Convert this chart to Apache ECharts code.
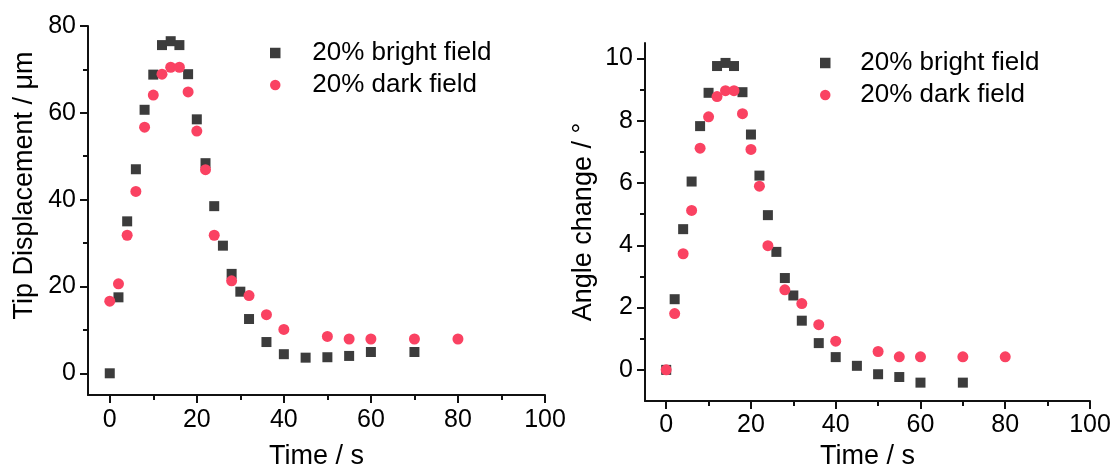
<!DOCTYPE html>
<html>
<head>
<meta charset="utf-8">
<script src="https://cdn.jsdelivr.net/npm/echarts@6/dist/echarts.min.js"></script>
<style>
  html, body { margin: 0; padding: 0; background: #ffffff; }
  #chart { width: 1116px; height: 468px; }
</style>
</head>
<body>
<div id="chart"></div>
<script>
// Sampling times (s)
const timeBright = [0, 2, 4, 6, 8, 10, 12, 14, 16, 18, 20, 22, 24, 26, 28, 30, 32, 36, 40, 45, 50, 55, 60, 70];
const timeDark = [0, 2, 4, 6, 8, 10, 12, 14, 16, 18, 20, 22, 24, 28, 32, 36, 40, 50, 55, 60, 70, 80];

// Tip displacement (µm)
const dispBright = [0, 17.5, 35, 47, 60.7, 68.8, 75.6, 76.5, 75.6, 68.9, 58.5, 48.4, 38.5, 29.4, 22.9, 18.8, 12.5, 7.2, 4.4, 3.6, 3.7, 4.0, 4.9, 4.9];
const dispDark = [16.6, 20.6, 31.8, 41.9, 56.7, 64.1, 68.9, 70.5, 70.5, 64.8, 55.8, 46.9, 31.8, 21.3, 17.9, 13.5, 10.1, 8.5, 7.9, 7.9, 7.9, 7.9];

// Angle change (degrees)
const angleBright = [0, 2.27, 4.52, 6.05, 7.83, 8.9, 9.76, 9.86, 9.76, 8.92, 7.56, 6.24, 4.97, 3.79, 2.95, 2.39, 1.58, 0.86, 0.41, 0.13, -0.14, -0.23, -0.41, -0.41];
const angleDark = [0, 1.81, 3.73, 5.12, 7.12, 8.13, 8.78, 8.97, 8.97, 8.23, 7.08, 5.9, 3.99, 2.57, 2.13, 1.45, 0.92, 0.59, 0.42, 0.42, 0.42, 0.42];

// Series names
const nameBright = '20% bright field';
const nameDark = '20% dark field';

// Tick positions
const timeMajor = [0, 20, 40, 60, 80, 100];
const timeMinor = [10, 30, 50, 70, 90];
const dispMajor = [0, 20, 40, 60, 80];
const dispMinor = [10, 30, 50, 70];
const angleMajor = [0, 2, 4, 6, 8, 10];
const angleMinor = [1, 3, 5, 7, 9];

const FONT = '"Liberation Sans", Arial, Helvetica, sans-serif';
const INK = '#111111';
const COLOR_BRIGHT = '#3c3c3c';
const COLOR_DARK = '#fa4262';
// Square legend icon that keeps its aspect ratio inside the icon box
const SQUARE_ICON = 'path://M0,0H10V10H0Z';

function pairs(xs, ys) {
  return xs.map((x, i) => [x, ys[i]]);
}

function mainAxis(gridIndex, position, min, max, step, majors, name, nameGap, labelMargin, namePadding) {
  return {
    type: 'value', gridIndex, position, offset: 0,
    min, max, interval: step,
    axisLine: { show: true, onZero: false, lineStyle: { color: INK, width: 2 } },
    axisTick: { show: true, inside: false, length: 8, customValues: majors,
      lineStyle: { color: INK, width: 2 } },
    axisLabel: { show: true, customValues: majors, margin: labelMargin,
      fontSize: 25, color: '#000', fontFamily: FONT },
    splitLine: { show: false },
    name, nameLocation: 'middle', nameGap,
    nameTextStyle: { fontSize: 27, color: '#000', fontFamily: FONT, padding: namePadding || 0 }
  };
}

function minorAxis(gridIndex, position, min, max, step, minors) {
  return {
    type: 'value', gridIndex, position, offset: 0,
    min, max, interval: step,
    axisLine: { show: false, onZero: false },
    axisTick: { show: true, inside: false, length: 5, customValues: minors,
      lineStyle: { color: INK, width: 2 } },
    axisLabel: { show: false },
    splitLine: { show: false }
  };
}

function scatter(name, xAxisIndex, yAxisIndex, data, symbol, size, color) {
  return {
    type: 'scatter', name, xAxisIndex, yAxisIndex, data,
    symbol, symbolSize: size,
    itemStyle: { color, opacity: 1 },
    emphasis: { disabled: true }
  };
}

function legendAt(left, top, itemWidth) {
  return {
    data: [{ name: nameBright, icon: SQUARE_ICON }, { name: nameDark, icon: 'circle' }],
    orient: 'vertical', left, top, padding: 0,
    itemWidth, itemHeight: 10.5, itemGap: 6, selectedMode: false,
    symbolKeepAspect: true,
    textStyle: { fontSize: 26, color: '#000', fontFamily: FONT }
  };
}

const chart = echarts.init(document.getElementById('chart'), null, { renderer: 'canvas' });

chart.setOption({
  animation: false,
  backgroundColor: '#ffffff',
  grid: [
    { left: 88, top: 26, width: 457, height: 369, outerBoundsMode: 'none', containLabel: false },
    { left: 645, top: 43, width: 445, height: 358, outerBoundsMode: 'none', containLabel: false }
  ],
  legend: [legendAt(270, 40, 64), legendAt(820, 50, 60)],
  xAxis: [
    mainAxis(0, 'bottom', -5, 100, 5, timeMajor, 'Time / s', 48, 13),
    minorAxis(0, 'bottom', -5, 100, 5, timeMinor),
    mainAxis(1, 'bottom', -5, 100, 5, timeMajor, 'Time / s', 40, 12),
    minorAxis(1, 'bottom', -5, 100, 5, timeMinor)
  ],
  yAxis: [
    mainAxis(0, 'left', -5, 80, 5, dispMajor, 'Tip Displacement / \u03bcm', 50, 12, [0, 0, 0, 50]),
    minorAxis(0, 'left', -5, 80, 5, dispMinor),
    mainAxis(1, 'left', -1, 10.5, 0.5, angleMajor, 'Angle change / \u00b0', 48, 12),
    minorAxis(1, 'left', -1, 10.5, 0.5, angleMinor)
  ],
  series: [
    scatter(nameBright, 0, 0, pairs(timeBright, dispBright), 'rect', 10, COLOR_BRIGHT),
    scatter(nameDark, 0, 0, pairs(timeDark, dispDark), 'circle', 11, COLOR_DARK),
    scatter(nameBright, 2, 2, pairs(timeBright, angleBright), 'rect', 10, COLOR_BRIGHT),
    scatter(nameDark, 2, 2, pairs(timeDark, angleDark), 'circle', 11, COLOR_DARK)
  ]
});
</script>
</body>
</html>
